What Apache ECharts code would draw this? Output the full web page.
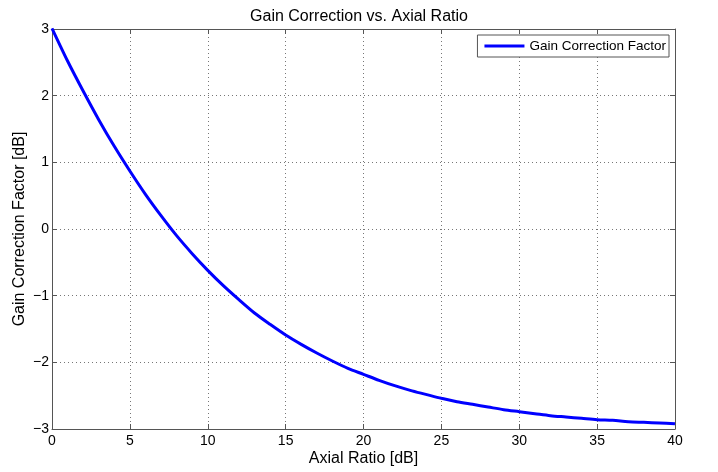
<!DOCTYPE html>
<html>
<head>
<meta charset="utf-8">
<script src="https://cdn.jsdelivr.net/npm/echarts@6/dist/echarts.min.js"></script>
<style>html,body{margin:0;padding:0;background:#fff;}#c{width:718px;height:472px;}</style>
</head>
<body>
<div id="c"></div>
<script>
var axialRatio = [0,1,2,3,4,5,6,7,8,9,10,11,12,13,14,15,16,17,18,19,20,21,22,23,24,25,26,27,28,29,30,31,32,33,34,35,36,37,38,39,40];
var gainCorrection = [3.01,2.52,2.07,1.64,1.24,0.87,0.52,0.20,-0.10,-0.37,-0.62,-0.85,-1.06,-1.26,-1.43,-1.59,-1.73,-1.86,-1.98,-2.09,-2.18,-2.27,-2.35,-2.42,-2.48,-2.54,-2.59,-2.63,-2.67,-2.71,-2.74,-2.77,-2.80,-2.82,-2.84,-2.86,-2.87,-2.89,-2.90,-2.91,-2.92];
var xTicks = [0,5,10,15,20,25,30,35,40];
var yTicks = [-3,-2,-1,0,1,2,3];
var seriesName = 'Gain Correction Factor';

var font = 'Liberation Sans, Arial, sans-serif';
var data = axialRatio.map(function(x,i){return [x, gainCorrection[i]];});
var gridLine = {show:true, lineStyle:{color:'#777', type:[1,3], width:1}};
function fmt(v){ return v < 0 ? '\u2212' + Math.abs(v) : String(v); }
var chart = echarts.init(document.getElementById('c'));
chart.setOption({
  animation:false,
  title:{text:'Gain Correction vs. Axial Ratio', left:'center', top:4,
    textStyle:{fontFamily:font, fontSize:16, fontWeight:'normal', color:'#000'}},
  legend:{data:[seriesName], right:49, top:35, orient:'vertical',
    backgroundColor:'#fff', borderColor:'#555', borderWidth:1, padding:[4,3,4,7],
    itemWidth:40, itemHeight:3, icon:'rect', itemGap:5,
    textStyle:{fontFamily:font, fontSize:13.5, color:'#000'}},
  grid:{left:52, right:43, top:29, bottom:43},
  xAxis:[{type:'value', min:xTicks[0], max:xTicks[xTicks.length-1], interval:5,
    name:'Axial Ratio [dB]', nameLocation:'middle', nameGap:22, nameMoveOverlap:false,
    nameTextStyle:{fontFamily:font, fontSize:16, color:'#000'},
    axisLine:{onZero:false, lineStyle:{color:'#555'}}, axisTick:{inside:true, length:5, lineStyle:{color:'#555'}},
    axisLabel:{fontFamily:font, fontSize:14, color:'#000', margin:5, formatter:fmt},
    splitLine:gridLine},
   {type:'value', position:'top', min:xTicks[0], max:xTicks[xTicks.length-1], interval:5,
    axisLine:{show:true, onZero:false, lineStyle:{color:'#555'}}, axisTick:{show:true, inside:true, length:5, lineStyle:{color:'#555'}},
    axisLabel:{show:false}, splitLine:{show:false}}],
  yAxis:[{type:'value', min:yTicks[0], max:yTicks[yTicks.length-1], interval:1,
    name:'Gain Correction Factor [dB]', nameLocation:'middle', nameGap:24, nameMoveOverlap:false,
    nameTextStyle:{fontFamily:font, fontSize:16, color:'#000'},
    axisLine:{show:true, onZero:false, lineStyle:{color:'#555'}}, axisTick:{show:true, inside:true, length:5, lineStyle:{color:'#555'}},
    axisLabel:{fontFamily:font, fontSize:14, color:'#000', margin:3, formatter:fmt},
    splitLine:gridLine},
   {type:'value', position:'right', min:yTicks[0], max:yTicks[yTicks.length-1], interval:1,
    axisLine:{show:true, onZero:false, lineStyle:{color:'#555'}}, axisTick:{show:true, inside:true, length:5, lineStyle:{color:'#555'}},
    axisLabel:{show:false}, splitLine:{show:false}}],
  series:[{name:seriesName, type:'line', data:data, showSymbol:false, smooth:0.3,
    lineStyle:{color:'#0000ff', width:3}, itemStyle:{color:'#0000ff'}}]
});
</script>
</body>
</html>
